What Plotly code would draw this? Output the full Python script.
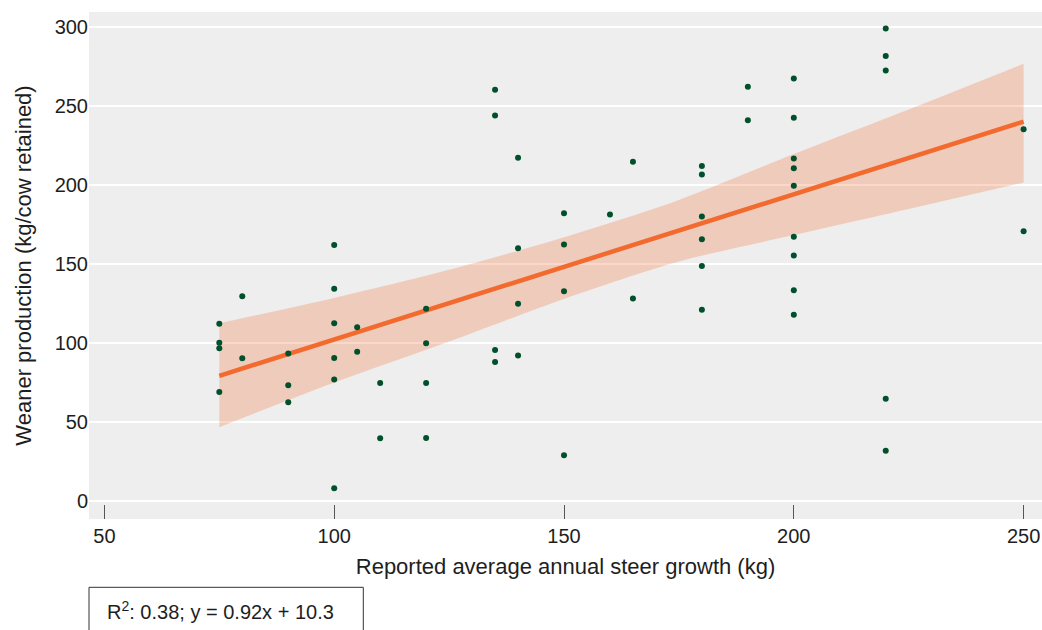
import numpy as np
import plotly.graph_objects as go

# Reported average annual steer growth (kg)
steer_growth = [
    100, 80, 75, 100, 100, 105, 75, 75, 90, 80, 100, 105, 100, 110, 90, 75, 90, 110, 100,
    135, 135, 140, 165, 180, 180, 150, 160, 180, 180, 140, 150, 180, 150, 120, 140, 165,
    180, 120, 135, 135, 140, 120, 120, 150,
    220, 220, 220, 190, 200, 190, 200, 200, 200, 200, 250, 250, 200, 200, 200, 200, 220, 220,
]
# Weaner production (kg/cow retained)
weaner_prod = [
    162.2, 129.7, 112.2, 134.5, 112.6, 110.1, 100.3, 96.8, 93.4, 90.4, 90.6, 94.6, 76.9, 74.8, 73.3, 69.1, 62.5, 39.7, 8.0,
    260.5, 244.2, 217.4, 214.8, 212.1, 206.8, 182.3, 181.5, 180.2, 165.8, 160.1, 162.4, 148.9, 132.9, 121.7, 125.0, 128.2,
    121.2, 99.9, 95.7, 88.1, 92.1, 74.8, 39.9, 29.0,
    299.3, 281.8, 272.7, 262.4, 267.6, 241.2, 242.7, 216.9, 210.8, 199.6, 235.5, 170.9, 167.3, 155.5, 133.5, 117.9, 64.8, 31.9,
]
# Fitted line as stated on the chart
fit_slope = 0.92
fit_intercept = 10.3
# Confidence band
band_x = [75, 100, 125, 150, 175, 200, 225, 250]
band_upper = [112.6, 128.6, 146.4, 167.1, 190.7, 219.7, 247.9, 276.9]
band_lower = [46.7, 75.0, 101.0, 128.0, 151.7, 168.4, 184.9, 201.7]
x_ticks = [50, 100, 150, 200, 250]
y_ticks = [0, 50, 100, 150, 200, 250, 300]
fit_label = "R<sup>2</sup>: 0.38; y = 0.92x + 10.3"

x = np.array(steer_growth, dtype=float)
y = np.array(weaner_prod, dtype=float)
line_x = np.array([x.min(), x.max()])
line_y = fit_slope * line_x + fit_intercept

FONT = "Liberation Sans, Arial, sans-serif"
TXT = "#1e1e1e"

fig = go.Figure()
fig.add_trace(go.Scatter(
    x=band_x, y=band_lower, mode="lines",
    line=dict(width=0, shape="spline", smoothing=0.8),
    hoverinfo="skip", showlegend=False,
))
fig.add_trace(go.Scatter(
    x=band_x, y=band_upper, mode="lines", fill="tonexty",
    fillcolor="rgba(242,106,46,0.26)",
    line=dict(width=0, shape="spline", smoothing=0.8),
    hoverinfo="skip", showlegend=False,
))
fig.add_trace(go.Scatter(
    x=line_x, y=line_y, mode="lines", line=dict(color="#F26A2E", width=4.5), showlegend=False,
))
fig.add_trace(go.Scatter(
    x=x, y=y, mode="markers", marker=dict(color="#00502C", size=6), showlegend=False,
))

fig.update_layout(
    width=1042, height=630,
    margin=dict(l=89, r=0, t=12, b=111),
    paper_bgcolor="white", plot_bgcolor="#EEEEEE",
    font=dict(family=FONT, size=20, color=TXT),
    xaxis=dict(
        range=[46.65, 254.0], tickvals=x_ticks, ticks="inside", ticklen=14,
        tickcolor="#555555", tickwidth=1.2, showgrid=False, zeroline=False,
        showline=False, automargin=False, tickfont=dict(size=20, color=TXT),
        ticklabelstandoff=3,
        title=dict(text="Reported average annual steer growth (kg)",
                   font=dict(size=22, color=TXT), standoff=12),
    ),
    yaxis=dict(
        range=[-11.4, 309.7], tickvals=y_ticks, ticks="", showgrid=True,
        gridcolor="white", gridwidth=1.5, zeroline=False, showline=False,
        automargin=False, tickfont=dict(size=20, color=TXT),
        title=dict(text="Weaner production (kg/cow retained)",
                   font=dict(size=22, color=TXT), standoff=16),
    ),
    shapes=[dict(
        type="rect", xref="paper", yref="paper",
        x0=0, x1=(363.3 - 89) / 953, y0=(519 - 587.3) / 507, y1=-0.3,
        line=dict(color="#333333", width=1), fillcolor="rgba(0,0,0,0)",
    )],
    annotations=[dict(
        text=fit_label, xref="paper", yref="paper",
        x=(105 - 89) / 953, xanchor="left", y=(519 - 610) / 507, yanchor="middle",
        showarrow=False, font=dict(size=20, color=TXT),
    )],
)

fig.write_html("out.html", config={"displayModeBar": False},
               post_script="document.body.style.margin='0';")
